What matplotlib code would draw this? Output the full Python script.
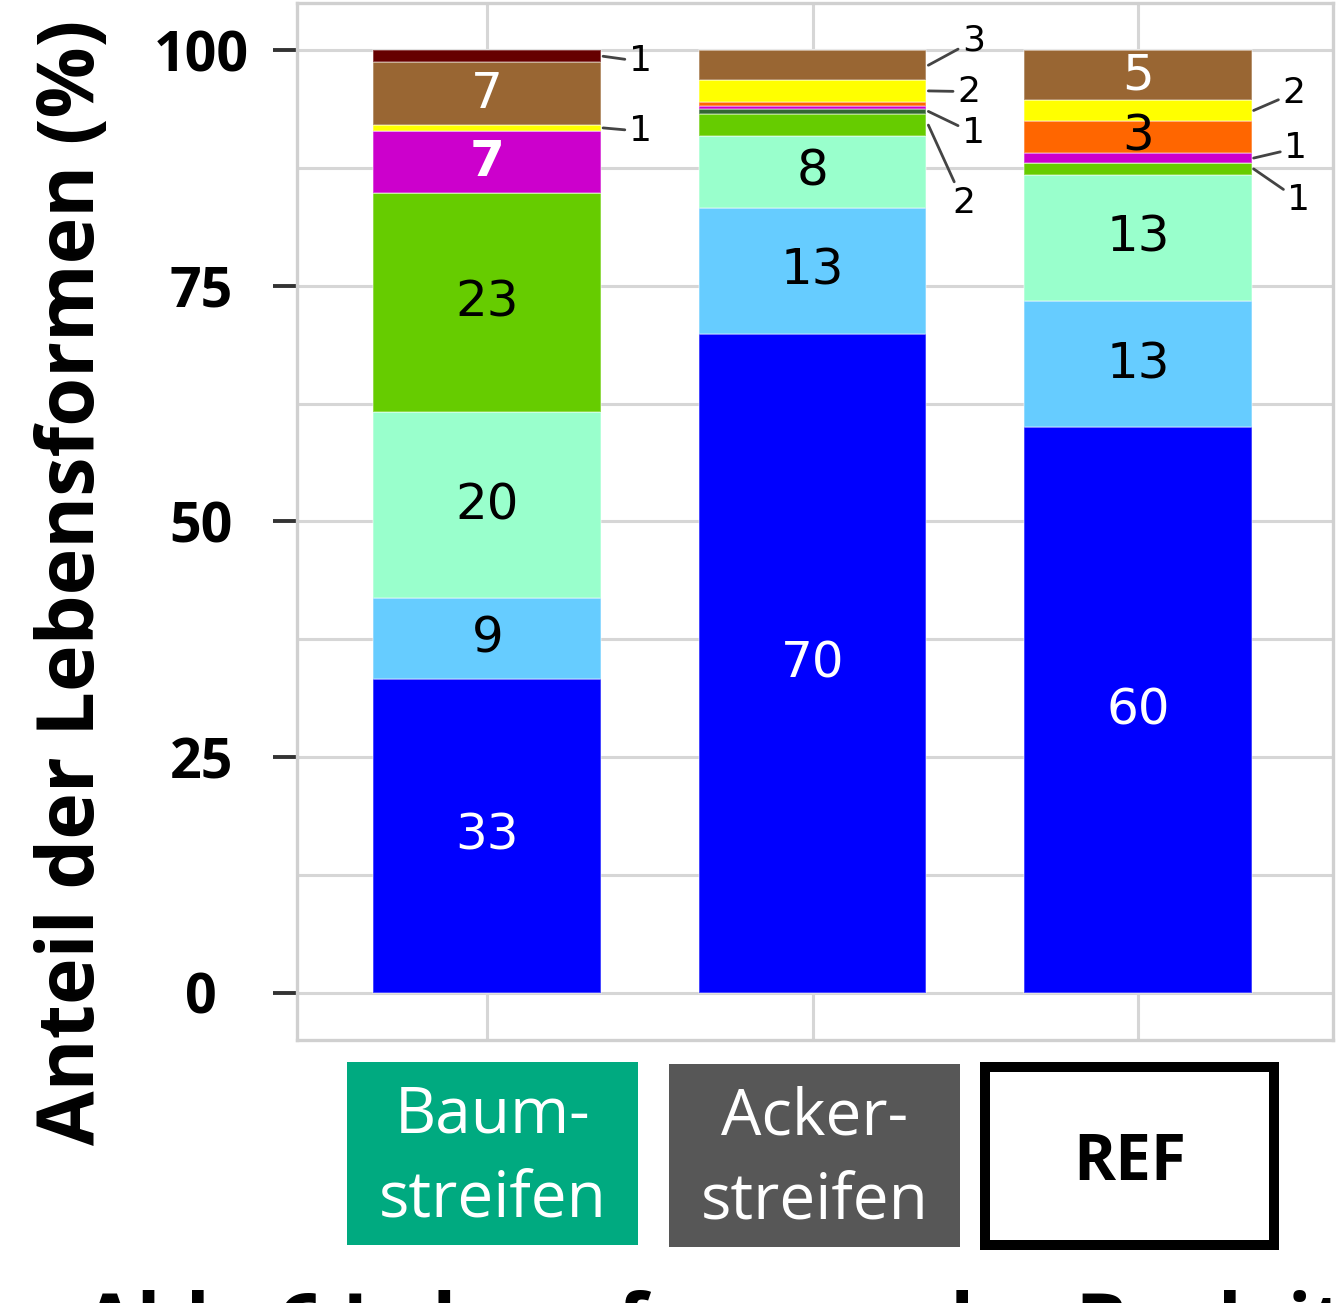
import matplotlib.pyplot as plt
from matplotlib.patches import Rectangle

# Gruppen auf der x-Achse
groups = ["Baum-\nstreifen", "Acker-\nstreifen", "REF"]
group_colors = ["#00AA80", "#575757", "white"]

# Anteile der Lebensformen in %, von unten nach oben gestapelt
blau = [33.3, 69.9, 60.0]
hellblau = [8.6, 13.4, 13.4]
mint = [19.7, 7.6, 13.4]
gruen = [23.2, 2.3, 1.2]
dunkelgruen = [0.0, 0.6, 0.0]
magenta = [6.6, 0.25, 1.1]
orange = [0.0, 0.5, 3.4]
gelb = [0.7, 2.25, 2.2]
braun = [6.6, 3.2, 5.3]
dunkelrot = [1.3, 0.0, 0.0]

yticks = [0, 25, 50, 75, 100]

# name, Werte, Füllfarbe, Schriftfarbe im Balken
layers = [
    ("blau", blau, "#0000FF", "white"),
    ("hellblau", hellblau, "#66CCFF", "black"),
    ("mint", mint, "#99FFCC", "black"),
    ("gruen", gruen, "#66CC00", "black"),
    ("dunkelgruen", dunkelgruen, "#336633", "black"),
    ("magenta", magenta, "#CC00CC", "white"),
    ("orange", orange, "#FF6600", "black"),
    ("gelb", gelb, "#FFFF00", "black"),
    ("braun", braun, "#996633", "white"),
    ("dunkelrot", dunkelrot, "#660000", "white"),
]

# Textposition der kleinen Anteile neben den Balken (x, y in Datenkoordinaten)
outside_pos = {
    (0, "dunkelrot"): (1.471, 98.8),
    (0, "gelb"): (1.471, 91.4),
    (1, "braun"): (2.495, 101.0),
    (1, "gelb"): (2.48, 95.6),
    (1, "dunkelgruen"): (2.495, 91.2),
    (1, "gruen"): (2.465, 83.8),
    (2, "gelb"): (3.48, 95.45),
    (2, "magenta"): (3.486, 89.6),
    (2, "gruen"): (3.495, 84.1),
}

W, H = 1336, 1303
fig = plt.figure(figsize=(W / 100, H / 100), dpi=100)
ax = fig.add_axes([297 / W, 1 - 1040 / H, 1036 / W, 1037 / H])

x = [1, 2, 3]
width = 0.7
bottom = [0.0, 0.0, 0.0]
for name, vals, color, tcol in layers:
    ax.bar(x, vals, width=width, bottom=bottom, color=color,
           edgecolor=(1, 1, 1, 0.35), linewidth=1.2, zorder=2)
    for i, v in enumerate(vals):
        if v < 0.55:
            continue
        mid = bottom[i] + v / 2
        label = f"{v:.0f}"
        if v >= 3.35:
            ax.text(x[i], mid, label, ha="center", va="center", fontsize=36,
                    color=tcol, family="DejaVu Sans",
                    fontweight="bold" if name == "magenta" else "normal",
                    zorder=3)
        else:
            tx, ty = outside_pos[(i, name)]
            ax.annotate(label, xy=(x[i] + width / 2 + 0.006, mid), xytext=(tx, ty),
                        ha="center", va="center", fontsize=26,
                        family="DejaVu Sans", color="black",
                        arrowprops=dict(arrowstyle="-", color="#444444",
                                        lw=2, shrinkA=1, shrinkB=0))
    bottom = [b + v for b, v in zip(bottom, vals)]

ax.set_xlim(0.415, 3.6)
ax.set_ylim(-5, 105)
ax.set_xticks(x)
ax.set_xticklabels([])
ax.set_yticks(yticks)
ax.set_yticks([12.5, 37.5, 62.5, 87.5], minor=True)
ax.set_yticklabels([str(t) for t in yticks], ha="center",
                   family="Open Sans", fontweight="bold", fontsize=40)
ax.tick_params(axis="y", which="major", length=17, width=2.8,
               color="#333333", pad=52)
ax.tick_params(axis="y", which="minor", length=0)
ax.tick_params(axis="x", length=0)
ax.grid(True, which="both", axis="y", color="#D6D6D6", linewidth=2.2)
ax.grid(True, which="major", axis="x", color="#D6D6D6", linewidth=2.2)
ax.set_axisbelow(True)
for sp in ax.spines.values():
    sp.set_color("#D0D0D0")
    sp.set_linewidth(2.4)

fig.text(74 / W, 1 - 582 / H, "Anteil der Lebensformen (%)", rotation=90,
         ha="center", va="center", fontsize=57, fontweight="bold",
         family="Open Sans")

# farbige Beschriftungsfelder unter den Balken
boxes = [(347, 1062, 291, 183), (669, 1064, 291, 183), (985, 1067, 289, 178)]
for label, fc, (bx, by, bw, bh) in zip(groups, group_colors, boxes):
    if fc == "white":
        rect = Rectangle((bx / W, 1 - (by + bh) / H), bw / W, bh / H,
                         transform=fig.transFigure, facecolor="white",
                         edgecolor="black", linewidth=7.2)
        fig.patches.append(rect)
        fig.text((bx + bw / 2) / W, 1 - (by + bh / 2 + 7) / H, label,
                 ha="center", va="center", fontsize=46, fontweight="bold",
                 family="Open Sans", color="black")
    else:
        rect = Rectangle((bx / W, 1 - (by + bh) / H), bw / W, bh / H,
                         transform=fig.transFigure, facecolor=fc,
                         edgecolor="none")
        fig.patches.append(rect)
        fig.text((bx + bw / 2) / W, 1 - (by + bh / 2 + 4) / H, label,
                 ha="center", va="center", fontsize=46, family="Open Sans",
                 color="white", linespacing=1.42)

fig.text(83 / W, 1 - 1290 / H, "Abb. 6 Lebensformen der Begleitflora",
         ha="left", va="top", fontsize=56, fontweight="bold",
         family="Open Sans")

fig.savefig("out.png", dpi=100)
